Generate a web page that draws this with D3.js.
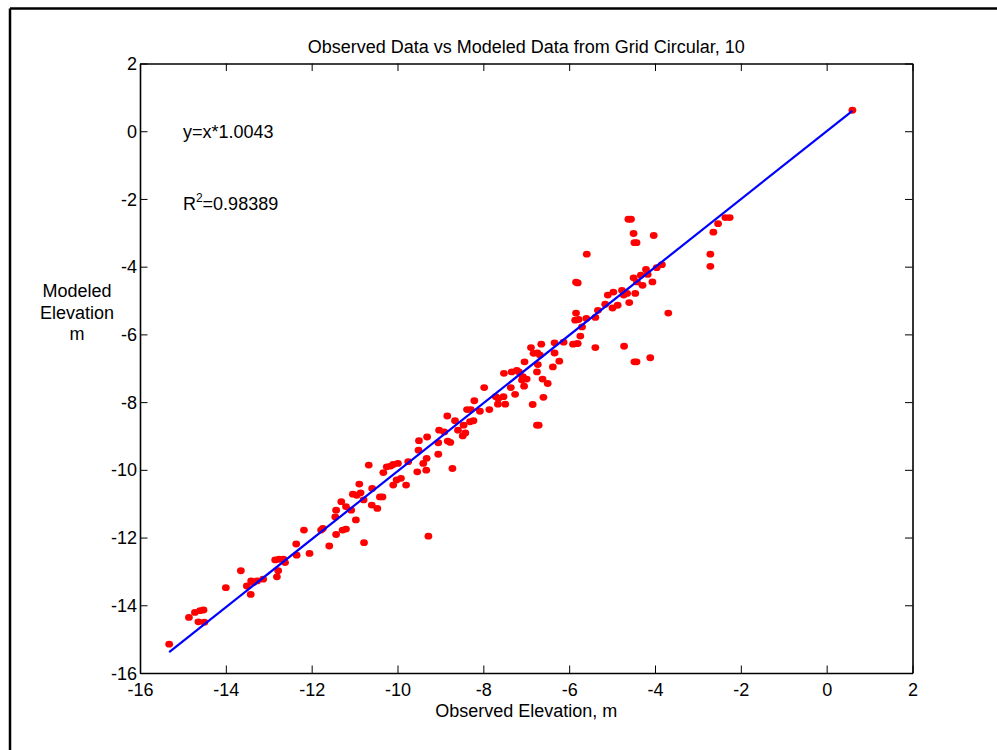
<!DOCTYPE html>
<html>
<head>
<meta charset="utf-8">
<script src="https://cdn.jsdelivr.net/npm/d3@7"></script>
<style>
  body { margin: 0; background: #fff; }
  text { font-family: "Liberation Sans", Arial, sans-serif; }
</style>
</head>
<body>
<div id="chart"></div>
<script>
// observed vs modeled elevations
const observed = [
  -15.32, -14.86, -14.72, -14.60, -14.52, -14.64, -14.50, -14.00, -13.65, -13.51,
  -13.41, -13.36, -13.27, -13.42, -13.13, -12.81, -12.78, -12.85, -12.62, -12.76,
  -12.66, -12.36, -12.35, -12.05, -12.18, -11.78, -11.74, -11.59, -11.43, -11.28,
  -11.20, -11.45, -11.43, -11.31, -11.20, -11.08, -10.97, -11.04, -10.95, -10.89,
  -10.86, -10.79, -10.59, -10.60, -10.47, -10.41, -10.35, -10.78, -10.67, -10.33,
  -10.25, -10.16, -10.10, -9.99, -10.10, -10.02, -9.92, -9.80, -9.75, -9.54,
  -9.50, -9.51, -9.40, -9.33, -9.31, -9.28, -9.32, -9.05, -8.72, -9.03,
  -8.91, -8.83, -8.77, -9.05, -8.84, -8.66, -8.59, -8.46, -8.42, -8.48,
  -8.31, -8.23, -8.21, -8.38, -8.29, -8.08, -7.98, -7.86, -7.71, -7.65,
  -7.53, -7.66, -7.49, -7.52, -7.34, -7.22, -7.17, -6.75, -7.08, -6.99,
  -7.10, -6.62, -7.05, -7.36, -7.26, -6.50, -6.60, -6.85, -6.75, -6.71,
  -7.04, -6.73, -6.23, -6.38, -6.89, -6.65, -6.83, -6.74, -6.68, -6.34,
  -6.34, -6.13, -5.91, -5.82, -4.50, -4.03, -4.48, -4.43, -2.64, -2.71,
  -2.71, -5.59, -5.84, -5.80, -3.69, -4.21, -4.17, -4.33, -4.50, -4.42,
  -4.29, -4.06, -3.96, -3.84, -4.77, -4.97, -5.10, -4.73, -4.65, -4.46,
  -4.60, -5.16, -4.99, -4.87, -5.33, -5.39, -5.60, -5.84, -5.86, -5.78,
  -5.70, -5.74, -5.80, -5.39, -4.72, -4.48, -4.43, -4.11, -4.62, -4.56,
  -2.53, -2.36, -2.26, 0.60
];
const modeled = [
  -15.15, -14.36, -14.21, -14.16, -14.14, -14.49, -14.50, -13.48, -12.98, -13.43,
  -13.28, -13.33, -13.28, -13.68, -13.23, -13.16, -12.98, -12.66, -12.74, -12.64,
  -12.64, -12.19, -12.52, -12.47, -11.78, -11.78, -11.73, -12.25, -11.91, -11.78,
  -11.75, -11.39, -11.19, -10.94, -11.09, -11.19, -11.48, -10.72, -10.75, -10.42,
  -10.68, -10.89, -10.55, -11.04, -11.14, -10.80, -10.80, -12.15, -9.86, -10.08,
  -9.91, -9.89, -9.84, -9.81, -10.45, -10.30, -10.25, -10.45, -9.76, -10.06,
  -9.14, -9.42, -9.81, -10.01, -9.03, -11.96, -9.66, -9.54, -9.96, -8.83,
  -8.88, -9.15, -9.19, -9.20, -8.41, -8.55, -8.83, -8.68, -8.91, -9.00,
  -8.58, -8.55, -7.96, -8.22, -8.22, -8.27, -7.57, -8.22, -7.84, -7.89,
  -7.84, -8.06, -8.06, -7.15, -7.11, -7.06, -7.11, -7.11, -7.25, -7.32,
  -7.35, -7.32, -7.53, -7.57, -7.77, -7.45, -7.86, -8.07, -8.68, -8.68,
  -6.81, -6.89, -6.79, -6.96, -6.39, -6.29, -6.56, -6.55, -6.61, -6.55,
  -6.25, -6.23, -6.29, -6.27, -3.02, -3.08, -3.29, -3.29, -2.98, -3.63,
  -3.99, -3.63, -4.46, -4.48, -5.37, -4.08, -4.23, -4.25, -4.33, -4.45,
  -4.55, -4.45, -4.03, -3.94, -4.70, -4.75, -4.84, -4.84, -4.79, -4.79,
  -5.06, -5.11, -5.22, -5.14, -5.29, -5.50, -5.53, -5.37, -5.58, -5.56,
  -5.78, -6.05, -6.27, -6.39, -6.35, -6.81, -6.81, -6.69, -2.60, -2.60,
  -2.73, -2.55, -2.55, 0.62
];
const slope = 1.0043;
const rSquared = 0.98389;
const xTicks = [-16, -14, -12, -10, -8, -6, -4, -2, 0, 2];
const yTicks = [-16, -14, -12, -10, -8, -6, -4, -2, 0, 2];
const titleText = "Observed Data vs Modeled Data from Grid Circular, 10";
const xLabel = "Observed Elevation, m";
const yLabel = ["Modeled", "Elevation", "m"];

const width = 997, height = 750;
const margin = { top: 63.5, right: 84.5, bottom: 77, left: 140 };
const fontSize = 18;

const svg = d3.select("#chart").append("svg")
    .attr("width", width)
    .attr("height", height);

// figure frame (only top and left edges show)
svg.append("line").attr("x1", 10).attr("x2", width).attr("y1", 8.5).attr("y2", 8.5)
    .attr("stroke", "black").attr("stroke-width", 2.5);
svg.append("line").attr("x1", 10).attr("x2", 10).attr("y1", 8.5).attr("y2", height)
    .attr("stroke", "black").attr("stroke-width", 2.5);

const x = d3.scaleLinear().domain([-16, 2]).range([margin.left, width - margin.right]);
const y = d3.scaleLinear().domain([-16, 2]).range([height - margin.bottom, margin.top]);

const fmt = d => String(d);

// axes, ticks pointing inward on all four sides
const gx = svg.append("g")
    .attr("transform", `translate(0,${y(-16)})`)
    .call(d3.axisBottom(x).tickValues(xTicks).tickFormat(fmt).tickSizeInner(-7.5).tickSizeOuter(0).tickPadding(10));
const gy = svg.append("g")
    .attr("transform", `translate(${x(-16)},0)`)
    .call(d3.axisLeft(y).tickValues(yTicks).tickFormat(fmt).tickSizeInner(-7.5).tickSizeOuter(0).tickPadding(3));
svg.append("g")
    .attr("transform", `translate(0,${y(2)})`)
    .call(d3.axisTop(x).tickValues(xTicks).tickFormat("").tickSizeInner(-7.5).tickSizeOuter(0));
svg.append("g")
    .attr("transform", `translate(${x(2)},0)`)
    .call(d3.axisRight(y).tickValues(yTicks).tickFormat("").tickSizeInner(-7.5).tickSizeOuter(0));

svg.selectAll(".domain").attr("stroke", "black").attr("stroke-width", 1.6);
svg.selectAll(".tick line").attr("stroke", "black").attr("stroke-width", 1);
svg.selectAll(".tick text").attr("font-size", fontSize).attr("fill", "black")
    .attr("font-family", '"Liberation Sans", Arial, sans-serif');
gy.selectAll(".tick text").attr("dy", "0.34em");

// data points
svg.append("g").selectAll("ellipse")
    .data(observed.map((v, i) => [v, modeled[i]]))
    .enter()
    .append("ellipse")
    .attr("cx", d => x(d[0]))
    .attr("cy", d => y(d[1]))
    .attr("rx", 3.9)
    .attr("ry", 3.4)
    .attr("fill", "#ff0000");

// fitted line over the observed range
const xMin = d3.min(observed), xMax = d3.max(observed);
svg.append("line")
    .attr("x1", x(xMin)).attr("y1", y(xMin * slope))
    .attr("x2", x(xMax)).attr("y2", y(xMax * slope))
    .attr("stroke", "#0000ff")
    .attr("stroke-width", 2.2);

// annotations
svg.append("text")
    .attr("x", x(-15)).attr("y", y(0)).attr("dy", 6.5)
    .attr("font-size", fontSize)
    .text(`y=x*${slope}`);
const r2 = svg.append("text")
    .attr("x", x(-15)).attr("y", y(-2)).attr("dy", 11)
    .attr("font-size", fontSize);
r2.append("tspan").text("R");
r2.append("tspan").attr("font-size", 12).attr("dy", -8).text("2");
r2.append("tspan").attr("dy", 8).text(`=${rSquared}`);

// title and labels
svg.append("text")
    .attr("x", (x(-16) + x(2)) / 2).attr("y", 53)
    .attr("text-anchor", "middle")
    .attr("font-size", fontSize)
    .text(titleText);
svg.append("text")
    .attr("x", (x(-16) + x(2)) / 2).attr("y", 717)
    .attr("text-anchor", "middle")
    .attr("font-size", fontSize)
    .text(xLabel);
svg.append("g").selectAll("text")
    .data(yLabel)
    .enter()
    .append("text")
    .attr("x", 77)
    .attr("y", (d, i) => 297 + i * 21.5)
    .attr("text-anchor", "middle")
    .attr("font-size", fontSize)
    .text(d => d);
</script>
</body>
</html>
